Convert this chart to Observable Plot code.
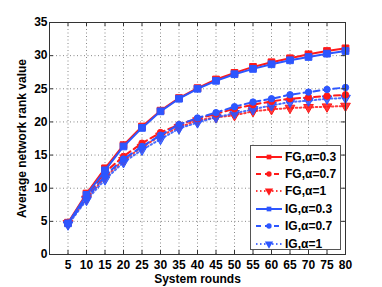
<!DOCTYPE html>
<html><head><meta charset="utf-8">
<script src="https://cdn.jsdelivr.net/npm/d3@7"></script>
<script src="https://cdn.jsdelivr.net/npm/@observablehq/plot@0.6"></script>
<style>
body{margin:0;background:#fff;font-family:"Liberation Sans",Arial,sans-serif}
#legend{position:absolute;left:250px;top:145px;width:91px;height:105px;background:#fff;border:1px solid #555;box-sizing:border-box;padding-top:2px}
.row{display:flex;align-items:center;height:17.4px}
.row span{font-weight:bold;font-size:12px;color:#000;margin-left:2px;white-space:nowrap}
</style>
</head><body><div id="chart" style="position:relative;width:382px;height:287px"></div>
<script>
const rounds = [5,10,15,20,25,30,35,40,45,50,55,60,65,70,75,80];
const fgA03 = [4.8,9.2,13.0,16.5,19.3,21.7,23.6,25.1,26.4,27.4,28.3,29.0,29.6,30.2,30.7,31.1];
const igA03 = [4.7,9.0,12.7,16.3,19.1,21.6,23.5,25.0,26.2,27.2,28.0,28.7,29.3,29.8,30.3,30.7];
const fgA07 = [4.7,8.8,12.4,14.8,16.8,18.4,19.6,20.5,21.2,22.0,22.6,23.1,23.5,23.7,23.9,24.1];
const igA07 = [4.6,8.5,11.9,14.4,16.3,18.0,19.6,20.6,21.4,22.3,23.0,23.5,24.1,24.5,24.9,25.2];
const fgA1  = [4.7,8.4,11.7,14.2,16.2,17.9,19.2,20.2,20.7,21.0,21.6,21.9,22.1,22.2,22.3,22.4];
const igA1  = [4.5,8.2,11.3,13.9,15.8,17.4,19.0,19.9,20.7,21.3,21.9,22.5,23.0,23.2,23.5,23.6];
const seriesNames = ["FG,α=0.3","FG,α=0.7","FG,α=1","IG,α=0.3","IG,α=0.7","IG,α=1"];
const xTicks = [5,10,15,20,25,30,35,40,45,50,55,60,65,70,75,80];
const yTicks = [0,5,10,15,20,25,30,35];
const xLabel = "System rounds";
const yLabel = "Average network rank value";

const RED = "#ff1a1a", BLUE = "#2d56ff";
const valuesList = [fgA03, fgA07, fgA1, igA03, igA07, igA1];
const styles = [
  {color:RED, dash:null, sym:"square", r:3.8, rot:0, op:1},
  {color:RED, dash:"6,4", sym:"circle", r:3.2, rot:0, op:1},
  {color:RED, dash:"1.5,2.5", sym:"triangle", r:3.6, rot:180, op:0.85},
  {color:BLUE, dash:null, sym:"square", r:3.8, rot:0, op:1},
  {color:BLUE, dash:"6,4", sym:"circle", r:3.2, rot:0, op:1},
  {color:BLUE, dash:"1.5,2.5", sym:"triangle", r:3.6, rot:180, op:0.85}
];
const rows = [];
seriesNames.forEach((name, i) => rounds.forEach((x, j) => rows.push({series:name, idx:i, x, y:valuesList[i][j]})));

const W = 382, H = 287, mL = 49, mR = 37, mT = 22, mB = 33;
const pw = W - mL - mR, ph = H - mT - mB;

const marks = [
  Plot.gridX(xTicks, {stroke:"#888", strokeOpacity:1, strokeDasharray:"1,2.5"}),
  Plot.gridY(yTicks.filter(d => d > 0), {stroke:"#888", strokeOpacity:1, strokeDasharray:"1,2.5"})
];
[2,5,1,4,0,3].forEach(i => {
  const s = styles[i];
  const d = rows.filter(r => r.idx === i);
  marks.push(Plot.line(d, {x:"x", y:"y", stroke:s.color, strokeWidth:2, strokeDasharray:s.dash, strokeOpacity:s.op}));
  marks.push(Plot.dot(d, {x:"x", y:"y", symbol:s.sym, r:s.r, fill:s.color, stroke:s.color, strokeWidth:1, rotate:s.rot, fillOpacity:s.op}));
});
marks.push(
  Plot.tickX(xTicks, {x:d=>d, insetTop: ph - 4, stroke:"#333"}),
  Plot.tickX(xTicks, {x:d=>d, insetBottom: ph - 4, stroke:"#333"}),
  Plot.tickY(yTicks, {y:d=>d, insetRight: pw - 4, stroke:"#333"}),
  Plot.tickY(yTicks, {y:d=>d, insetLeft: pw - 4, stroke:"#333"}),
  Plot.frame({stroke:"#333"}),
  Plot.axisX(xTicks, {tickSize:0, tickPadding:6, fontSize:12, fontWeight:"bold", label:null, fill:"#000"}),
  Plot.axisY(yTicks, {tickSize:0, tickPadding:2, fontSize:12, fontWeight:"bold", label:null, fill:"#000"}),
  Plot.text([xLabel], {frameAnchor:"bottom", lineAnchor:"middle", dy:25, fontSize:12, fontWeight:"bold", fill:"#000"}),
  Plot.text([yLabel], {frameAnchor:"left", textAnchor:"middle", lineAnchor:"middle", dx:-27, rotate:-90, fontSize:12, fontWeight:"bold", fill:"#000"})
);

const chart = Plot.plot({
  width: W, height: H,
  marginLeft: mL, marginRight: mR, marginTop: mT, marginBottom: mB,
  style: {fontFamily:"Liberation Sans, Arial, sans-serif", background:"#fff", overflow:"visible"},
  x: {domain:[0,80]},
  y: {domain:[0,35]},
  marks
});
const host = document.getElementById("chart");
host.appendChild(chart);

// legend
const legend = document.createElement("div");
legend.id = "legend";
seriesNames.forEach((name, i) => {
  const s = styles[i];
  const row = document.createElement("div");
  row.className = "row";
  const ns = "http://www.w3.org/2000/svg";
  const svg = document.createElementNS(ns, "svg");
  svg.setAttribute("width", 32); svg.setAttribute("height", 14);
  const line = document.createElementNS(ns, "line");
  line.setAttribute("x1", 5); line.setAttribute("x2", 31); line.setAttribute("y1", 7); line.setAttribute("y2", 7);
  line.setAttribute("stroke", s.color); line.setAttribute("stroke-width", 2);
  line.setAttribute("stroke-opacity", s.op);
  if (s.dash) line.setAttribute("stroke-dasharray", s.dash === "6,4" ? "5,4" : s.dash);
  svg.appendChild(line);
  const p = document.createElementNS(ns, "path");
  const symType = s.sym === "square" ? d3.symbolSquare : s.sym === "circle" ? d3.symbolCircle : d3.symbolTriangle;
  p.setAttribute("d", d3.symbol(symType, s.sym === "triangle" ? 30 : 22)());
  p.setAttribute("transform", `translate(18,7) rotate(${s.rot})`);
  p.setAttribute("fill", s.color);
  svg.appendChild(p);
  row.appendChild(svg);
  const t = document.createElement("span");
  t.textContent = name;
  row.appendChild(t);
  legend.appendChild(row);
});
host.appendChild(legend);
</script>
</body></html>
